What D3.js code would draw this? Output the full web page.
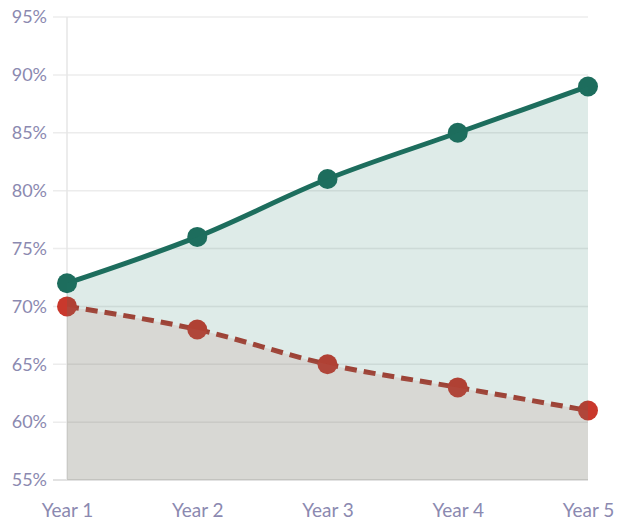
<!DOCTYPE html>
<html lang="en">
  <head>
    <meta charset="UTF-8" />
    <title>Year 1 - Year 5</title>
    <script src="https://d3js.org/d3.v7.min.js"></script>
    <style>
      body {
        margin: 0;
        background: #fff;
      }
      .tick text {
        fill: #8b89b0;
        font-family: Lato, sans-serif;
        font-size: 18px;
      }
      .x-axis .tick text {
        font-size: 19px;
      }
    </style>
  </head>
  <body>
    <svg width="624" height="532"></svg>

    <script>
      const years = ['Year 1', 'Year 2', 'Year 3', 'Year 4', 'Year 5'];
      const upper = [72, 76, 81, 85, 89];
      const lower = [70, 68, 65, 63, 61];
      const yTicks = [55, 60, 65, 70, 75, 80, 85, 90, 95];

      const svg = d3.select('svg');
      const plotL = 67,
        plotR = 588,
        plotT = 17,
        plotB = 480;

      const x = d3.scalePoint().domain(years).range([plotL, plotR]);
      const y = d3.scaleLinear().domain([55, 95]).range([plotB, plotT]);

      const rows = years.map((yr, i) => ({ yr, hi: upper[i], lo: lower[i] }));

      // grid
      svg
        .append('g')
        .selectAll('line')
        .data(yTicks)
        .enter()
        .append('line')
        .attr('x1', 53)
        .attr('x2', plotR)
        .attr('y1', (d) => y(d))
        .attr('y2', (d) => y(d))
        .attr('stroke', (d) => (d === 55 ? '#d8d8d8' : '#ececec'))
        .attr('stroke-width', 1.5);

      svg
        .append('line')
        .attr('x1', plotL)
        .attr('x2', plotL)
        .attr('y1', plotT)
        .attr('y2', plotB)
        .attr('stroke', '#e6e6e6')
        .attr('stroke-width', 1.5);

      // y axis labels
      const yAxis = svg
        .append('g')
        .attr('transform', 'translate(53,0)')
        .call(
          d3
            .axisLeft(y)
            .tickValues(yTicks)
            .tickSize(0)
            .tickPadding(6)
            .tickFormat((d) => d + '%'),
        );
      yAxis.select('.domain').remove();

      // x axis labels
      const xAxis = svg
        .append('g')
        .attr('class', 'x-axis')
        .attr('transform', `translate(0,${plotB})`)
        .call(d3.axisBottom(x).tickSize(0).tickPadding(24));
      xAxis.select('.domain').remove();

      const curve = d3.curveMonotoneX;

      // lines
      svg
        .append('path')
        .datum(rows)
        .attr('fill', 'none')
        .attr('stroke', '#1d6d5d')
        .attr('stroke-width', 5)
        .attr(
          'd',
          d3
            .line()
            .x((d) => x(d.yr))
            .y((d) => y(d.hi))
            .curve(curve),
        );

      svg
        .append('path')
        .datum(rows)
        .attr('fill', 'none')
        .attr('stroke', '#b23a2f')
        .attr('stroke-width', 5)
        .attr('stroke-dasharray', '12,7')
        .attr(
          'd',
          d3
            .line()
            .x((d) => x(d.yr))
            .y((d) => y(d.lo))
            .curve(curve),
        );

      // dots
      svg
        .selectAll('.dot-hi')
        .data(rows)
        .enter()
        .append('circle')
        .attr('cx', (d) => x(d.yr))
        .attr('cy', (d) => y(d.hi))
        .attr('r', 10)
        .attr('fill', '#1d6d5d');

      svg
        .selectAll('.dot-lo')
        .data(rows)
        .enter()
        .append('circle')
        .attr('cx', (d) => x(d.yr))
        .attr('cy', (d) => y(d.lo))
        .attr('r', 10)
        .attr('fill', '#c9382c');

      // translucent areas over everything
      svg
        .append('path')
        .datum(rows)
        .attr('fill', '#1f7a68')
        .attr('opacity', 0.15)
        .attr(
          'd',
          d3
            .area()
            .x((d) => x(d.yr))
            .y0((d) => y(d.lo))
            .y1((d) => y(d.hi))
            .curve(curve),
        );

      svg
        .append('path')
        .datum(rows)
        .attr('fill', '#6f6f5f')
        .attr('opacity', 0.27)
        .attr(
          'd',
          d3
            .area()
            .x((d) => x(d.yr))
            .y0(y(55))
            .y1((d) => y(d.lo))
            .curve(curve),
        );
    </script>
  </body>
</html>
